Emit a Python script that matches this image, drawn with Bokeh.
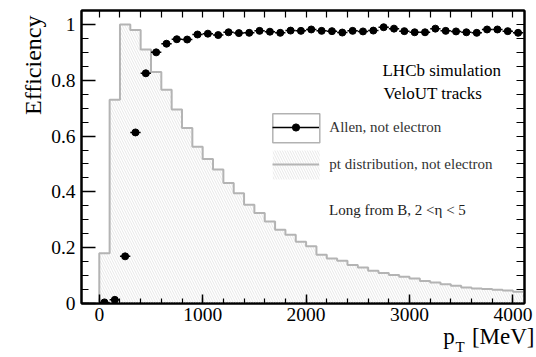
import numpy as np
from bokeh.plotting import figure
from bokeh.models import (ColumnDataSource, FixedTicker, LinearAxis, Label, Legend,
                          LegendItem, BoxAnnotation, Range1d, Title)
from bokeh.embed import file_html
from bokeh.resources import INLINE

# ---------------- data ----------------
# pT histogram (normalised to max), bin lower edges [MeV], bin width 100 MeV
hist_lo = [-100, 0, 100, 200, 300, 400, 500, 600, 700, 800, 900, 1000, 1100, 1200,
           1300, 1400, 1500, 1600, 1700, 1800, 1900, 2000, 2100, 2200, 2300, 2400,
           2500, 2600, 2700, 2800, 2900, 3000, 3100, 3200, 3300, 3400, 3500, 3600,
           3700, 3800, 3900, 4000]
hist_val = [0.0, 0.18, 0.73, 1.0, 0.98, 0.91, 0.83, 0.766, 0.695, 0.629, 0.562,
            0.518, 0.48, 0.432, 0.395, 0.354, 0.324, 0.294, 0.264, 0.246, 0.221,
            0.205, 0.175, 0.161, 0.153, 0.138, 0.129, 0.117, 0.109, 0.102, 0.096,
            0.090, 0.081, 0.075, 0.069, 0.064, 0.057, 0.054, 0.052, 0.049, 0.047,
            0.042]
bin_width = 100

# efficiency points (bin centres [MeV])
eff_x = [50, 150, 250, 350, 450, 550, 650, 750, 850, 950, 1050, 1150, 1250, 1350,
         1450, 1550, 1650, 1750, 1850, 1950, 2050, 2150, 2250, 2350, 2450, 2550,
         2650, 2750, 2850, 2950, 3050, 3150, 3250, 3350, 3450, 3550, 3650, 3750,
         3850, 3950, 4050]
eff_y = [0.004, 0.013, 0.169, 0.613, 0.825, 0.900, 0.931, 0.947, 0.946, 0.964,
         0.967, 0.962, 0.972, 0.969, 0.970, 0.977, 0.974, 0.970, 0.978, 0.977,
         0.982, 0.977, 0.976, 0.971, 0.977, 0.975, 0.978, 0.990, 0.985, 0.976,
         0.972, 0.972, 0.985, 0.977, 0.975, 0.972, 0.970, 0.982, 0.982, 0.976,
         0.970]

x_ticks = [0, 1000, 2000, 3000, 4000]
y_ticks = [0, 0.2, 0.4, 0.6, 0.8, 1.0]
y_tick_labels = {0: "0", 1: "1"}

legend_labels = ["Allen, not electron", "pt distribution, not electron"]
texts = ["LHCb simulation", "VeloUT tracks", "Long from B, 2 <\u03b7 < 5"]
y_title = "Efficiency"
x_title_main = "p\u00a0\u00a0\u00a0[MeV]"
x_title_sub = "T"

# ---------------- layout ----------------
FONT = "Liberation Serif"
X0, X1 = -172, 4112
Y0, Y1 = 0.0, 1.05
W, H = 536, 357
L, R, T, B = 81, 12, 10, 54
FW, FH = W - L - R, H - T - B


def dx(px):
    return X0 + (px - L) / FW * (X1 - X0)


def dy(py):
    return Y1 - (py - T) / FH * (Y1 - Y0)


p = figure(width=W, height=H, x_range=Range1d(X0, X1), y_range=Range1d(Y0, Y1),
           output_backend="svg", toolbar_location=None,
           min_border_left=L, min_border_right=R, min_border_top=T,
           min_border_bottom=B)
p.xgrid.visible = False
p.ygrid.visible = False
p.background_fill_color = "white"
p.border_fill_color = "white"
p.outline_line_color = "black"
p.outline_line_width = 2

# histogram
lo = np.array(hist_lo, dtype=float)
hv = np.array(hist_val, dtype=float)
hist_src = ColumnDataSource(dict(left=lo, right=lo + bin_width, top=hv,
                                 bottom=np.zeros_like(hv)))
p.quad(left="left", right="right", top="top", bottom="bottom", source=hist_src,
       fill_color=None, line_color=None, hatch_pattern="left_diagonal_line",
       hatch_color="#e8e8e8", hatch_scale=5, hatch_weight=1)
step_src = ColumnDataSource(dict(x=np.append(lo, lo[-1] + bin_width),
                                 y=np.append(hv, hv[-1])))
hs = p.step(x="x", y="y", source=step_src, mode="after", line_color="#b4b4b4",
            line_width=2)

# efficiency
ex = np.array(eff_x, dtype=float)
ey = np.array(eff_y, dtype=float)
eff_src = ColumnDataSource(dict(x=ex, y=ey, x0=ex - bin_width / 2,
                                x1=ex + bin_width / 2))
err = p.segment(x0="x0", x1="x1", y0="y", y1="y", source=eff_src,
                line_color="black", line_width=1.5)
sc = p.scatter(x="x", y="y", source=eff_src, size=7, color="black")
dot2 = p.scatter(x=[], y=[], size=5, color="#999999")

# axes
xt = FixedTicker(ticks=x_ticks, minor_ticks=list(range(0, 4101, 200)))
yt = FixedTicker(ticks=y_ticks, minor_ticks=[round(0.05 * i, 2) for i in range(22)])
xt_mirror = FixedTicker(ticks=[], minor_ticks=list(range(0, 4101, 200)))
yt_mirror = FixedTicker(ticks=[], minor_ticks=[round(0.05 * i, 2) for i in range(22)])


def style(ax, ticker, tin, min_in):
    ax.ticker = ticker
    ax.major_tick_in = tin
    ax.major_tick_out = 0
    ax.minor_tick_in = min_in
    ax.minor_tick_out = 0
    ax.axis_line_width = 2
    ax.axis_line_color = "black"
    ax.major_tick_line_color = "black"
    ax.minor_tick_line_color = "black"
    ax.major_tick_line_width = 1.5
    ax.minor_tick_line_width = 1.2
    ax.major_label_text_font = FONT
    ax.major_label_text_font_size = "19.5px"
    ax.major_label_text_color = "black"


style(p.xaxis[0], xt, 9, 5)
p.xaxis[0].major_label_standoff = 4
style(p.yaxis[0], yt, 14, 7)
p.yaxis[0].major_label_standoff = 6
p.yaxis[0].major_label_overrides = y_tick_labels

ax_top = LinearAxis()
style(ax_top, xt_mirror, 0, 7)
ax_top.major_label_standoff = 0
p.add_layout(ax_top, "above")
ax_right = LinearAxis()
style(ax_right, yt_mirror, 0, 8)
ax_right.major_label_standoff = 0
p.add_layout(ax_right, "right")

# axis titles (ROOT style: at the end of the axes)
p.add_layout(Title(text=y_title, align="right", vertical_align="top", offset=5,
                   standoff=2, text_font=FONT, text_font_size="24px",
                   text_font_style="normal", text_color="black"), "left")
p.add_layout(Title(text=x_title_main, align="right", vertical_align="top",
                   offset=-10, standoff=0, text_font=FONT, text_font_size="23px",
                   text_font_style="normal", text_color="black"), "below")
p.add_layout(Title(text=x_title_sub, align="left", vertical_align="top",
                   offset=374, standoff=-23, text_font=FONT, text_font_size="15px",
                   text_font_style="normal", text_color="black"), "below")

# legend decorations
p.add_layout(BoxAnnotation(left=dx(272.3), right=dx(319.3), top=dy(113.3),
                           bottom=dy(142.3), fill_color=None, line_color="black",
                           line_width=1.5))
p.add_layout(BoxAnnotation(left=dx(272.3), right=dx(319.3), top=dy(150),
                           bottom=dy(179), fill_color=None, line_color=None,
                           hatch_pattern="left_diagonal_line", hatch_color="#e8e8e8",
                           hatch_scale=5, hatch_weight=1))

legend = Legend(items=[LegendItem(label=legend_labels[0], renderers=[err, sc]),
                       LegendItem(label=legend_labels[1], renderers=[hs, dot2])],
                location=(272.3 - L, (T + FH) - 173.3), glyph_width=47,
                glyph_height=18, label_height=18, spacing=19, padding=0, margin=0,
                label_standoff=10, border_line_color=None, background_fill_alpha=0,
                label_text_font=FONT, label_text_font_size="15px",
                label_text_color="#333333")
p.add_layout(legend)

# texts
p.add_layout(Label(x=dx(500.5), y=dy(69.5), text=texts[0], text_align="right",
                   text_baseline="alphabetic", text_font=FONT,
                   text_font_size="17px", text_color="black"))
p.add_layout(Label(x=dx(383), y=dy(92.5), text=texts[1], text_align="left",
                   text_baseline="alphabetic", text_font=FONT,
                   text_font_size="17px", text_color="black"))
p.add_layout(Label(x=dx(328.5), y=dy(209.3), text=texts[2], text_align="left",
                   text_baseline="alphabetic", text_font=FONT,
                   text_font_size="15px", text_color="#222222"))

open("out.html", "w").write(file_html(p, INLINE))
